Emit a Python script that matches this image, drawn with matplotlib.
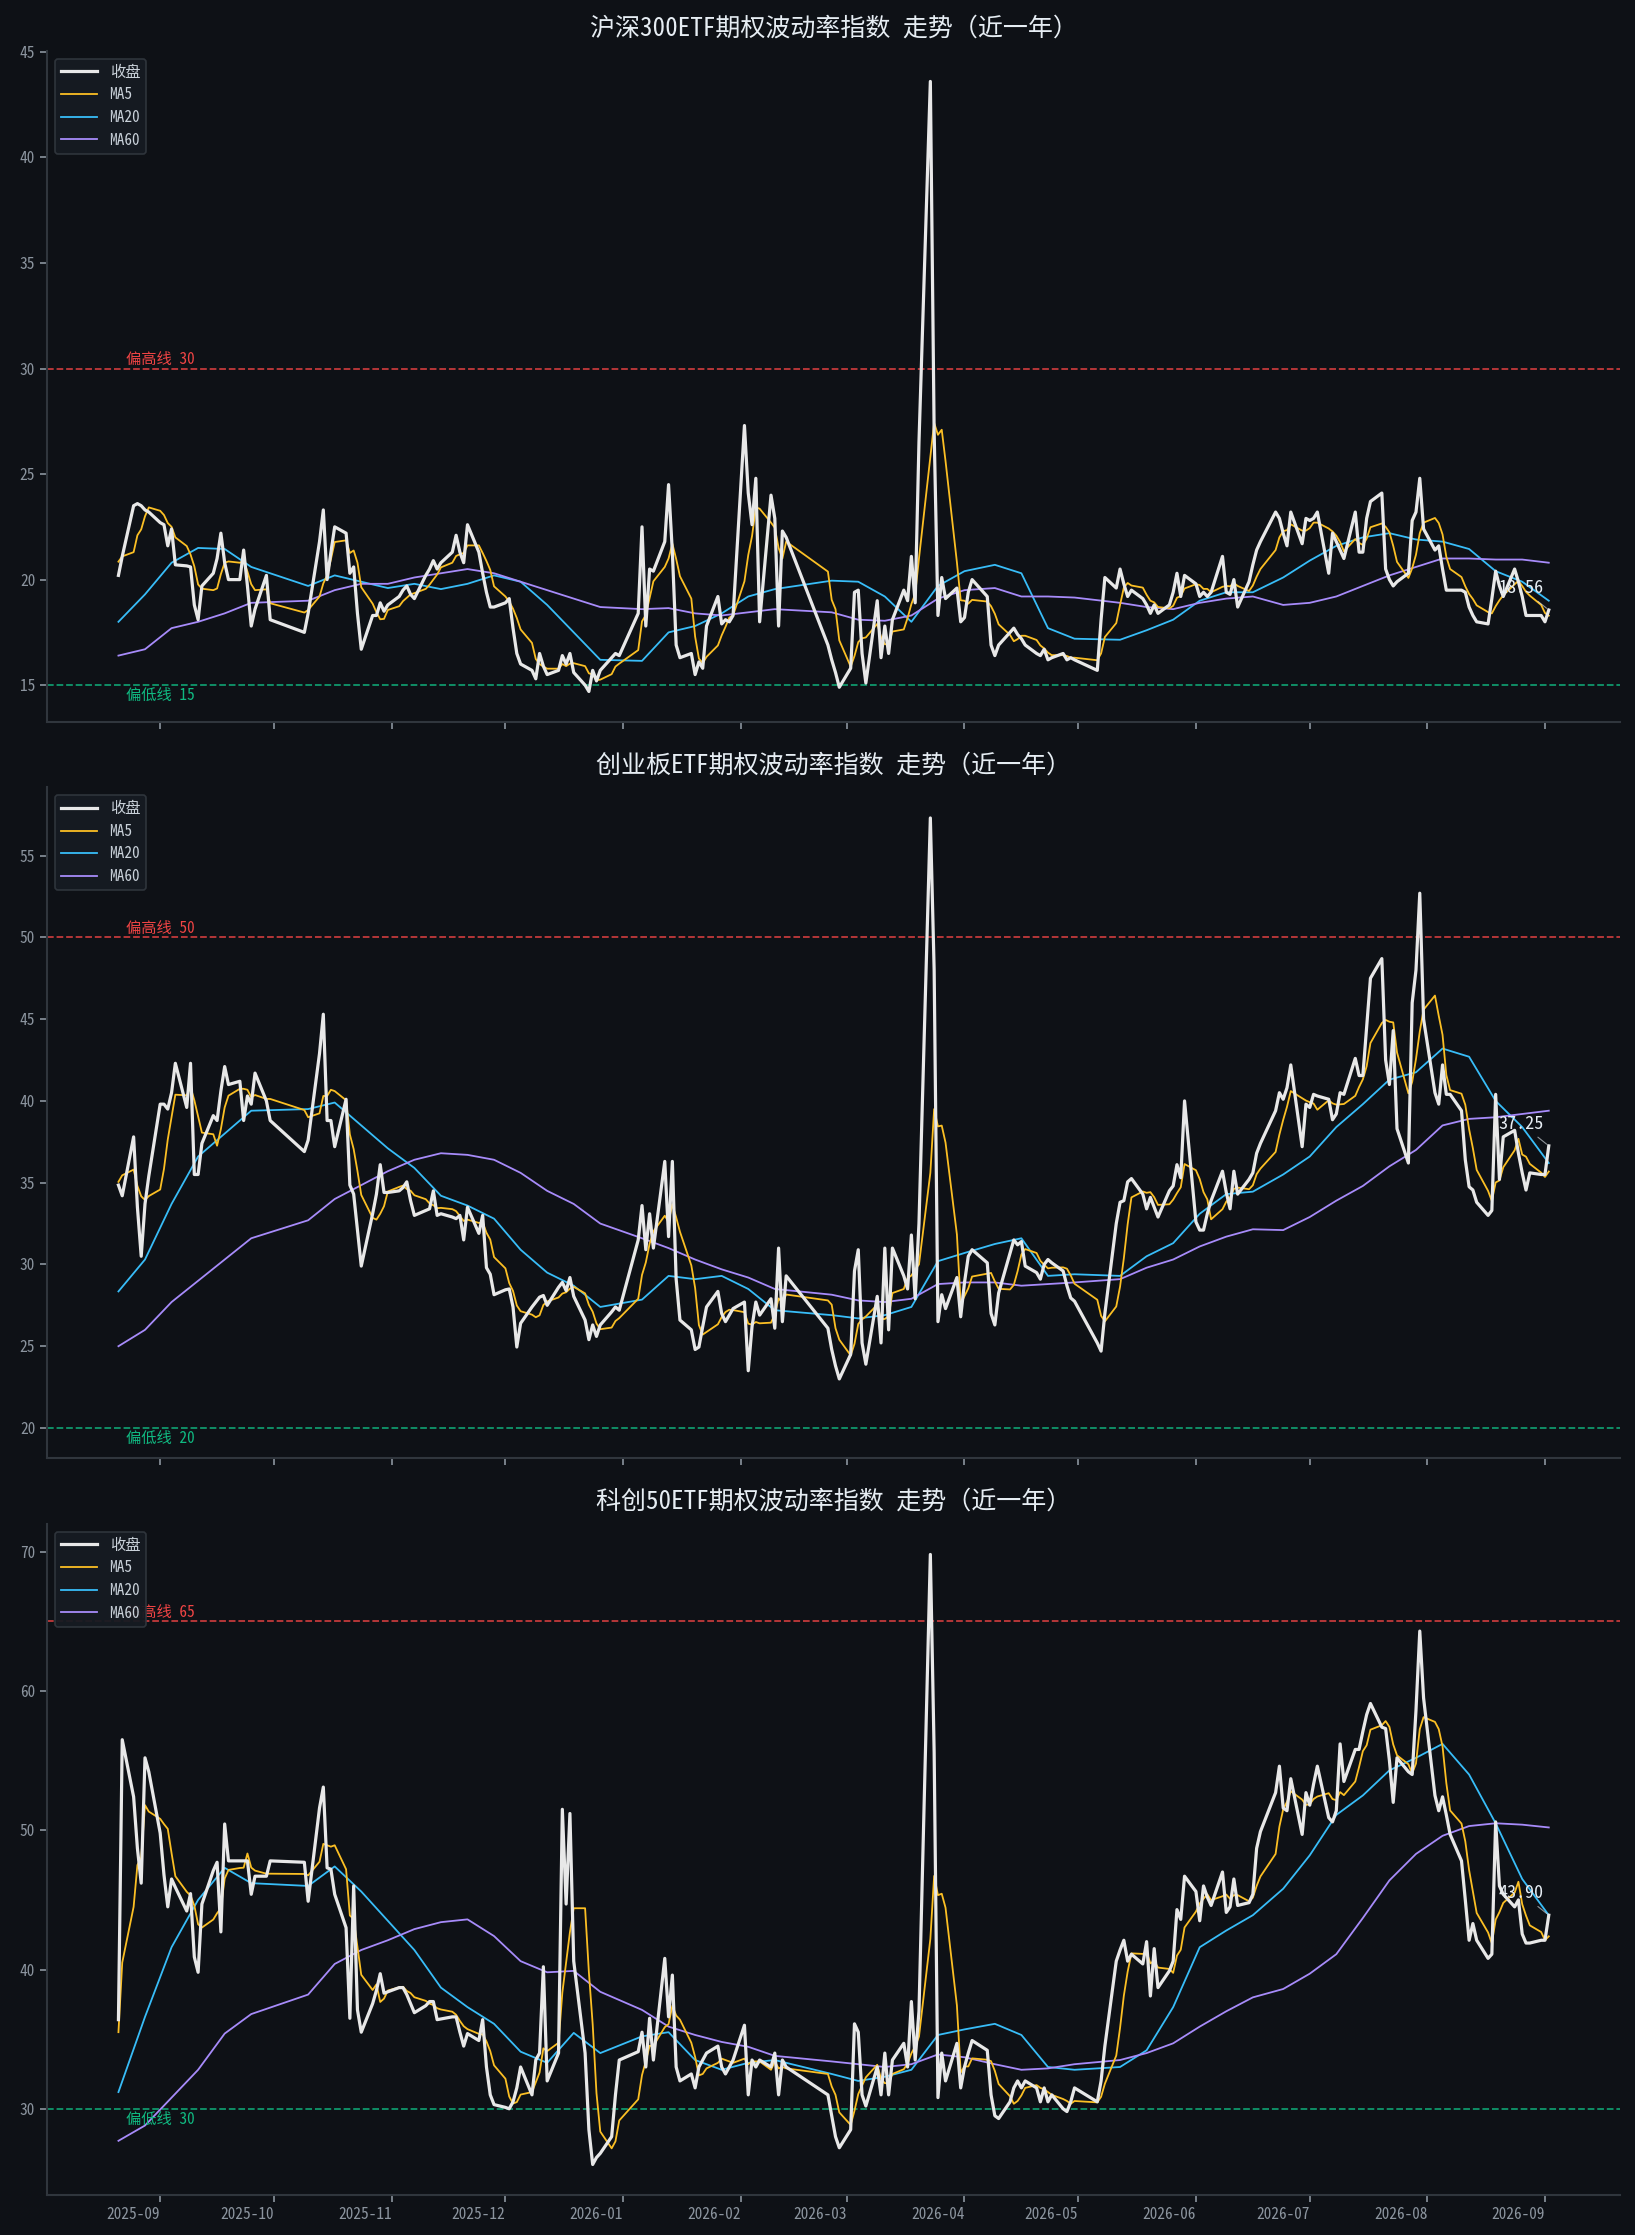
import numpy as np
import pandas as pd
import matplotlib
matplotlib.use("Agg")
import matplotlib.pyplot as plt
import matplotlib.dates as mdates

plt.rcParams['font.family'] = ['Noto Sans Mono CJK SC', 'Noto Sans CJK SC', 'DejaVu Sans']
plt.rcParams['axes.unicode_minus'] = False

# ---------------- data ----------------
start_date = "2025-08-21"
end_date = "2026-09-02"
holidays = ["2025-10-01", "2025-10-02", "2025-10-03", "2025-10-06", "2025-10-07", "2025-10-08",
            "2026-01-01", "2026-01-02", "2026-02-16", "2026-02-17", "2026-02-18", "2026-02-19",
            "2026-02-20", "2026-02-23", "2026-04-06", "2026-05-01", "2026-05-04", "2026-05-05",
            "2026-06-19"]

titles = ["沪深300ETF期权波动率指数 走势（近一年）",
          "创业板ETF期权波动率指数 走势（近一年）",
          "科创50ETF期权波动率指数 走势（近一年）"]
high_lines = [30, 50, 65]
low_lines = [15, 20, 30]

close_300 = [
    20.2, 21.1, 23.5, 23.6, 23.5, 23.3, 23.2,
    22.7, 22.6, 21.6, 22.4, 20.7, 20.65, 20.6, 18.8, 18.1, 19.7, 20.3, 21.0, 22.2, 20.8, 20.0, 20.0, 21.4, 19.7, 17.8, 18.6, 20.2, 18.1,
    17.5, 18.4, 21.8, 23.3, 20.0, 21.3, 22.5, 22.2, 20.3, 20.6, 18.4, 16.7, 18.3, 18.3, 18.9, 18.5, 18.8,
    19.2, 19.5, 19.7, 19.3, 19.1, 20.2, 20.5, 20.9, 20.5, 20.8, 21.3, 22.1, 21.3, 20.8, 22.6, 21.3, 20.3, 19.4, 18.7, 18.7,
    18.9, 19.1, 17.7, 16.5, 16.0, 15.7, 15.3, 16.5, 15.9, 15.5, 15.7, 16.4, 16.0, 16.5, 15.6, 15.0, 14.7, 15.7, 15.2, 15.7, 16.3, 16.5, 16.4,
    18.4, 22.5, 17.8, 20.5, 20.4, 21.8, 24.5, 21.3, 16.9, 16.3, 16.5, 15.5, 16.1, 15.8, 17.8, 19.2, 17.9, 18.1, 18.0, 18.3,
    27.3, 24.1, 22.6, 24.8, 18.0, 24.0, 22.9, 17.8, 22.3, 22.0, 16.9, 16.2, 15.6, 14.9,
    15.8, 19.4, 19.5, 16.5, 15.1, 19.0, 16.3, 17.8, 16.5, 18.1, 19.5, 19.0, 21.1, 18.9, 26.5, 43.6, 27.0, 18.3, 20.1, 19.1, 19.6, 18.0,
    18.2, 19.4, 20.0, 19.2, 16.9, 16.4, 16.9, 17.5, 17.7, 17.4, 17.2, 16.9, 16.5, 16.4, 16.7, 16.2, 16.3, 16.5, 16.2, 16.3, 16.2,
    15.7, 18.1, 20.1, 19.6, 20.5, 19.8, 19.2, 19.5, 19.1, 18.8, 18.4, 18.8, 18.4, 18.8, 19.4, 20.3, 19.2, 20.2,
    19.8, 19.2, 19.4, 19.2, 19.4, 21.1, 19.4, 19.3, 20.0, 18.7, 19.9, 20.7, 21.4, 21.8, 23.2, 22.9, 22.2, 21.6, 23.2, 21.7, 22.9,
    22.8, 22.9, 23.2, 20.3, 22.2, 21.8, 21.4, 21.0, 23.2, 21.3, 21.3, 22.9, 23.7, 24.1, 20.5, 20.0, 19.7, 19.9, 20.3, 22.8, 23.2, 24.8, 22.4,
    21.4, 21.6, 20.5, 19.5, 19.5, 19.5, 19.4, 18.7, 18.3, 18.0, 17.9, 19.1, 20.4, 19.7, 19.2, 20.5, 19.9, 19.2, 18.3, 18.3, 18.3,
    18.0, 18.56]

close_cyb = [
    34.85, 34.2, 37.8, 33.5, 30.5, 33.7, 35.4,
    39.8, 39.8, 39.5, 40.5, 42.3, 39.6, 42.3, 35.5, 35.5, 37.4, 39.1, 38.8, 40.6, 42.1, 41.0, 41.2, 38.8, 40.3, 39.8, 41.7, 40.0, 38.8,
    36.9, 37.6, 42.9, 45.3, 38.8, 38.8, 37.2, 40.1, 34.85, 34.3, 32.1, 29.9, 33.1, 34.3, 36.1, 34.4, 34.4,
    34.5, 34.7, 35.05, 33.9, 33.0, 33.3, 33.4, 34.5, 33.0, 33.1, 32.9, 32.8, 33.0, 31.5, 33.5, 31.9, 33.0, 29.8, 29.4, 28.15,
    28.45, 28.5, 27.4, 24.95, 26.4, 27.4, 27.7, 28.0, 28.1, 27.5, 28.6, 28.9, 28.4, 29.2, 28.05, 26.6, 25.4, 26.3, 25.6, 26.3, 27.1, 27.4, 27.2,
    31.5, 33.6, 30.9, 33.1, 31.0, 36.3, 31.7, 36.3, 29.1, 26.6, 26.0, 24.8, 24.95, 26.2, 27.4, 28.35, 27.0, 26.5, 26.9, 27.3,
    27.7, 23.5, 26.2, 27.7, 26.9, 27.9, 26.1, 31.0, 26.5, 29.3, 26.1, 24.8, 23.8, 23.0,
    24.5, 29.6, 30.9, 25.2, 23.9, 28.05, 25.2, 31.0, 26.0, 31.0, 29.3, 28.5, 31.8, 27.9, 32.5, 57.3, 48.0, 26.5, 28.15, 27.3, 29.2, 26.8,
    28.9, 30.5, 30.9, 30.1, 27.0, 26.3, 28.25, 30.7, 31.5, 31.2, 31.4, 29.9, 29.5, 29.1, 30.0, 30.3, 30.1, 29.6, 28.7, 27.95, 27.75,
    25.2, 24.7, 27.0, 32.5, 33.8, 33.9, 35.05, 35.25, 34.3, 33.4, 34.1, 33.5, 32.9, 34.5, 34.8, 36.1, 35.3, 40.0,
    32.6, 32.1, 32.1, 33.1, 33.9, 35.7, 34.4, 33.4, 35.7, 34.3, 35.2, 35.6, 36.8, 37.4, 39.4, 40.5, 40.1, 40.8, 42.2, 37.2, 39.8,
    39.6, 40.4, 40.3, 40.1, 38.85, 39.2, 40.5, 40.4, 42.6, 41.55, 41.55, 44.5, 47.5, 48.7, 42.5, 41.0, 44.3, 38.3, 36.2, 46.0, 48.0, 52.7, 45.0,
    40.5, 39.8, 42.2, 40.4, 40.4, 39.4, 36.4, 34.75, 34.55, 33.8, 33.0, 33.3, 40.4, 35.2, 37.8, 38.2, 36.8, 35.6, 34.55, 35.6, 35.5,
    35.5, 37.25]

close_kc50 = [
    36.4, 56.5, 52.4, 48.7, 46.2, 55.2, 54.2,
    49.8, 46.8, 44.5, 46.5, 45.9, 44.2, 45.45, 40.9, 39.8, 44.7, 47.1, 47.7, 42.7, 50.45, 47.8, 47.8, 47.8, 47.8, 45.4, 46.7, 46.7, 47.8,
    47.7, 44.9, 51.6, 53.1, 47.3, 47.2, 45.4, 43.0, 36.5, 46.0, 37.1, 35.5, 37.55, 38.5, 39.7, 38.3, 38.4,
    38.7, 38.7, 38.2, 37.55, 36.9, 37.4, 37.7, 37.7, 36.4, 36.45, 36.6, 36.6, 35.5, 34.5, 35.4, 34.9, 36.4, 33.0, 31.0, 30.3,
    30.1, 30.0, 30.5, 31.5, 33.0, 31.0, 33.5, 34.0, 40.2, 32.0, 34.0, 51.5, 44.7, 51.2, 40.6, 34.0, 28.5, 26.0, 26.5, 26.8, 28.0, 31.0, 33.5,
    34.1, 35.5, 33.0, 36.5, 33.5, 40.8, 36.6, 39.6, 33.0, 32.0, 32.5, 31.5, 33.0, 33.5, 34.0, 34.5, 33.0, 32.5, 33.0, 33.5,
    36.0, 31.0, 33.5, 33.0, 33.5, 33.0, 34.0, 31.0, 33.5, 33.0, 31.0, 29.5, 28.0, 27.2,
    28.5, 36.1, 35.5, 31.0, 30.2, 33.0, 31.0, 34.0, 31.0, 33.5, 34.7, 33.0, 37.7, 33.5, 37.0, 69.8, 55.6, 30.8, 34.0, 32.0, 34.7, 31.5,
    33.0, 34.0, 34.9, 34.2, 31.0, 29.5, 29.3, 30.5, 31.5, 32.0, 31.5, 32.0, 31.5, 30.5, 31.5, 30.5, 31.0, 30.0, 29.8, 30.5, 31.5,
    30.5, 32.0, 34.5, 40.6, 41.4, 42.1, 40.6, 41.1, 40.4, 42.0, 38.1, 41.5, 38.7, 39.9, 40.6, 44.3, 43.6, 46.7,
    45.6, 43.5, 46.0, 45.2, 44.6, 47.0, 44.1, 44.5, 46.5, 44.6, 44.8, 45.4, 48.7, 49.9, 52.7, 54.6, 51.6, 51.4, 53.7, 49.7, 52.7,
    51.8, 53.3, 54.6, 50.9, 50.6, 51.4, 56.2, 53.5, 55.8, 55.8, 57.1, 58.3, 59.1, 57.4, 57.3, 55.0, 52.0, 55.2, 54.2, 54.0, 58.6, 64.3, 59.5,
    52.5, 51.4, 52.4, 51.1, 49.7, 47.8, 45.0, 42.1, 43.3, 42.1, 40.8, 41.1, 50.6, 46.0, 45.4, 44.5, 45.0, 42.55, 41.9, 41.9, 42.1,
    42.1, 43.9]

# MA5 values of the first four days (window reaches before the chart start)
ma5_head_300 = [20.85, 21.1, 21.3, 22.1]
ma5_head_cyb = [35.05, 35.45, 35.8, 34.8]
ma5_head_kc50 = [35.5, 40.5, 44.5, 47.5]

# MA20 / MA60 read every 5th trading day (index 0, 5, ..., 250)
ma20_300 = [18.0, 19.3, 20.8, 21.5, 21.45, 20.6, 19.7, 20.2, 19.9, 19.6, 19.8, 19.55, 19.8, 20.2, 19.9, 18.8, 17.5, 16.2,
            16.15, 17.5, 17.8, 18.4, 19.2, 19.55, 19.95, 19.9, 19.2, 18.0, 19.7, 20.4, 20.7, 20.3, 17.7, 17.2,
            17.15, 17.6, 18.1, 19.0, 19.4, 19.4, 20.1, 20.9, 21.6, 22.0, 22.2, 21.9, 21.8, 21.45, 20.4, 19.9, 19.0]
ma60_300 = [16.4, 16.7, 17.7, 18.0, 18.4, 18.9, 19.0, 19.5, 19.8, 19.8, 20.1, 20.3, 20.5, 20.3, 19.9, 19.5, 19.1, 18.7,
            18.6, 18.65, 18.4, 18.3, 18.45, 18.6, 18.45, 18.1, 18.05, 18.3, 19.1, 19.5, 19.6, 19.2, 19.2, 19.15,
            18.9, 18.7, 18.6, 18.9, 19.1, 19.2, 18.8, 18.9, 19.2, 19.7, 20.2, 20.6, 21.0, 21.0, 20.95, 20.95, 20.8]
ma20_cyb = [28.35, 30.3, 33.7, 36.6, 38.0, 39.4, 39.5, 39.9, 38.5, 37.1, 35.9, 34.2, 33.6, 32.8, 30.9, 29.5, 28.7, 27.4,
            27.85, 29.3, 29.1, 29.3, 28.5, 27.2, 26.9, 26.7, 26.9, 27.4, 30.2, 30.7, 31.25, 31.6, 29.3, 29.4,
            29.3, 30.5, 31.3, 33.1, 34.3, 34.45, 35.5, 36.6, 38.4, 39.8, 41.3, 41.75, 43.2, 42.7, 40.0, 38.4, 36.2]
ma60_cyb = [25.0, 26.0, 27.7, 29.0, 30.3, 31.6, 32.7, 34.0, 34.85, 35.7, 36.4, 36.8, 36.7, 36.4, 35.6, 34.5, 33.7, 32.5,
            31.6, 31.0, 30.3, 29.7, 29.2, 28.5, 28.15, 27.8, 27.7, 27.9, 28.8, 28.9, 28.9, 28.7, 28.8, 28.9,
            29.1, 29.8, 30.3, 31.1, 31.7, 32.15, 32.1, 32.9, 33.9, 34.8, 36.0, 37.0, 38.5, 38.9, 39.0, 39.2, 39.4]
ma20_kc50 = [31.2, 36.6, 41.6, 45.0, 47.3, 46.2, 46.0, 47.4, 45.6, 43.5, 41.4, 38.7, 37.3, 36.1, 34.1, 33.3, 35.45, 34.0,
             35.2, 35.5, 33.5, 32.8, 33.3, 33.5, 32.5, 32.0, 32.3, 32.8, 35.3, 35.7, 36.1, 35.3, 33.0, 32.8,
             33.0, 34.2, 37.3, 41.6, 42.8, 43.9, 45.8, 48.2, 51.1, 52.5, 54.3, 55.2, 56.2, 54.0, 50.5, 46.5, 43.9]
ma60_kc50 = [27.7, 28.8, 30.8, 32.8, 35.4, 36.8, 38.2, 40.4, 41.4, 42.1, 42.9, 43.4, 43.6, 42.4, 40.6, 39.8, 39.9, 38.4,
             37.1, 35.9, 35.3, 34.8, 34.45, 33.8, 33.4, 33.2, 33.0, 33.2, 33.9, 33.7, 33.2, 32.8, 32.9, 33.2,
             33.5, 34.0, 34.7, 35.9, 37.0, 38.0, 38.6, 39.7, 41.1, 43.7, 46.4, 48.3, 49.6, 50.3, 50.5, 50.4, 50.2]

# ---------------- style ----------------
BG = "#0e1116"
C_CLOSE = "#e8e8e8"
C_MA5 = "#fbbf24"
C_MA20 = "#38bdf8"
C_MA60 = "#a78bfa"
C_HIGH = "#ef4444"
C_LOW = "#10b981"
C_SPINE = "#30363d"
C_TICK = "#8b949e"
C_TITLE = "#e6edf3"

dates = pd.bdate_range(start_date, end_date)
dates = dates[~dates.isin(pd.to_datetime(holidays))]
n = len(dates)
ma_idx = np.arange(0, n, 5)

panels = [
    (close_300, ma5_head_300, ma20_300, ma60_300),
    (close_cyb, ma5_head_cyb, ma20_cyb, ma60_cyb),
    (close_kc50, ma5_head_kc50, ma20_kc50, ma60_kc50),
]

fig = plt.figure(figsize=(16.35, 22.35), dpi=100, facecolor=BG)
gs = fig.add_gridspec(3, 1, left=0.0287, right=0.991, top=0.9772, bottom=0.0179, hspace=0.0976)
axes = []
for i in range(3):
    ax = fig.add_subplot(gs[i, 0], sharex=axes[0] if axes else None)
    axes.append(ax)

for i, ax in enumerate(axes):
    close, head, ma20, ma60 = panels[i]
    s = pd.Series(close, index=dates[:len(close)])
    ma5 = s.rolling(5).mean()
    ma5.iloc[:len(head)] = head
    ax.set_facecolor(BG)
    ax.plot(s.index, s.values, color=C_CLOSE, lw=2.3, label="收盘", zorder=5)
    ax.plot(ma5.index, ma5.values, color=C_MA5, lw=1.3, label="MA5", zorder=4)
    ax.plot(dates[ma_idx], ma20, color=C_MA20, lw=1.3, label="MA20", zorder=3)
    ax.plot(dates[ma_idx], ma60, color=C_MA60, lw=1.3, label="MA60", zorder=3)

    hi, lo = high_lines[i], low_lines[i]
    ax.axhline(hi, color=C_HIGH, ls="--", lw=1.3, alpha=0.8)
    ax.axhline(lo, color=C_LOW, ls="--", lw=1.3, alpha=0.8)
    xt = dates[0] + pd.Timedelta(days=2)
    ax.annotate(f"偏高线 {hi}", xy=(xt, hi), xytext=(0, 6.5), textcoords="offset points",
                color=C_HIGH, fontsize=11, va="center", ha="left")
    ax.annotate(f"偏低线 {lo}", xy=(xt, lo), xytext=(0, -7.5), textcoords="offset points",
                color=C_LOW, fontsize=11, va="center", ha="left")

    last = close[-1]
    ax.annotate(f"{last:.2f}", xy=(dates[len(close) - 1], last), xytext=(-20, 16),
                textcoords="offset points", ha="center", va="center", color=C_TITLE, fontsize=13,
                arrowprops=dict(arrowstyle="-", color=C_TITLE, lw=0.8, alpha=0.6), zorder=6)

    ax.set_title(titles[i], color=C_TITLE, fontsize=18, pad=11)
    for sp in ["top", "right"]:
        ax.spines[sp].set_visible(False)
    for sp in ["left", "bottom"]:
        ax.spines[sp].set_color(C_SPINE)
        ax.spines[sp].set_linewidth(1.5)
    ax.tick_params(colors=C_TICK, labelsize=11, length=5, width=1.2)
    leg = ax.legend(loc="upper left", fontsize=11, facecolor="#161b22", edgecolor=C_SPINE,
                    labelcolor="#c9d1d9", framealpha=0.95, handlelength=2.4)
    leg.get_frame().set_linewidth(1.2)

axes[-1].xaxis.set_major_locator(mdates.MonthLocator())
axes[-1].xaxis.set_major_formatter(mdates.DateFormatter("%Y-%m"))
for ax in axes[:-1]:
    plt.setp(ax.get_xticklabels(), visible=False)
plt.setp(axes[-1].get_xticklabels(), ha="right")

fig.savefig("out.png", dpi=100, facecolor=BG)
